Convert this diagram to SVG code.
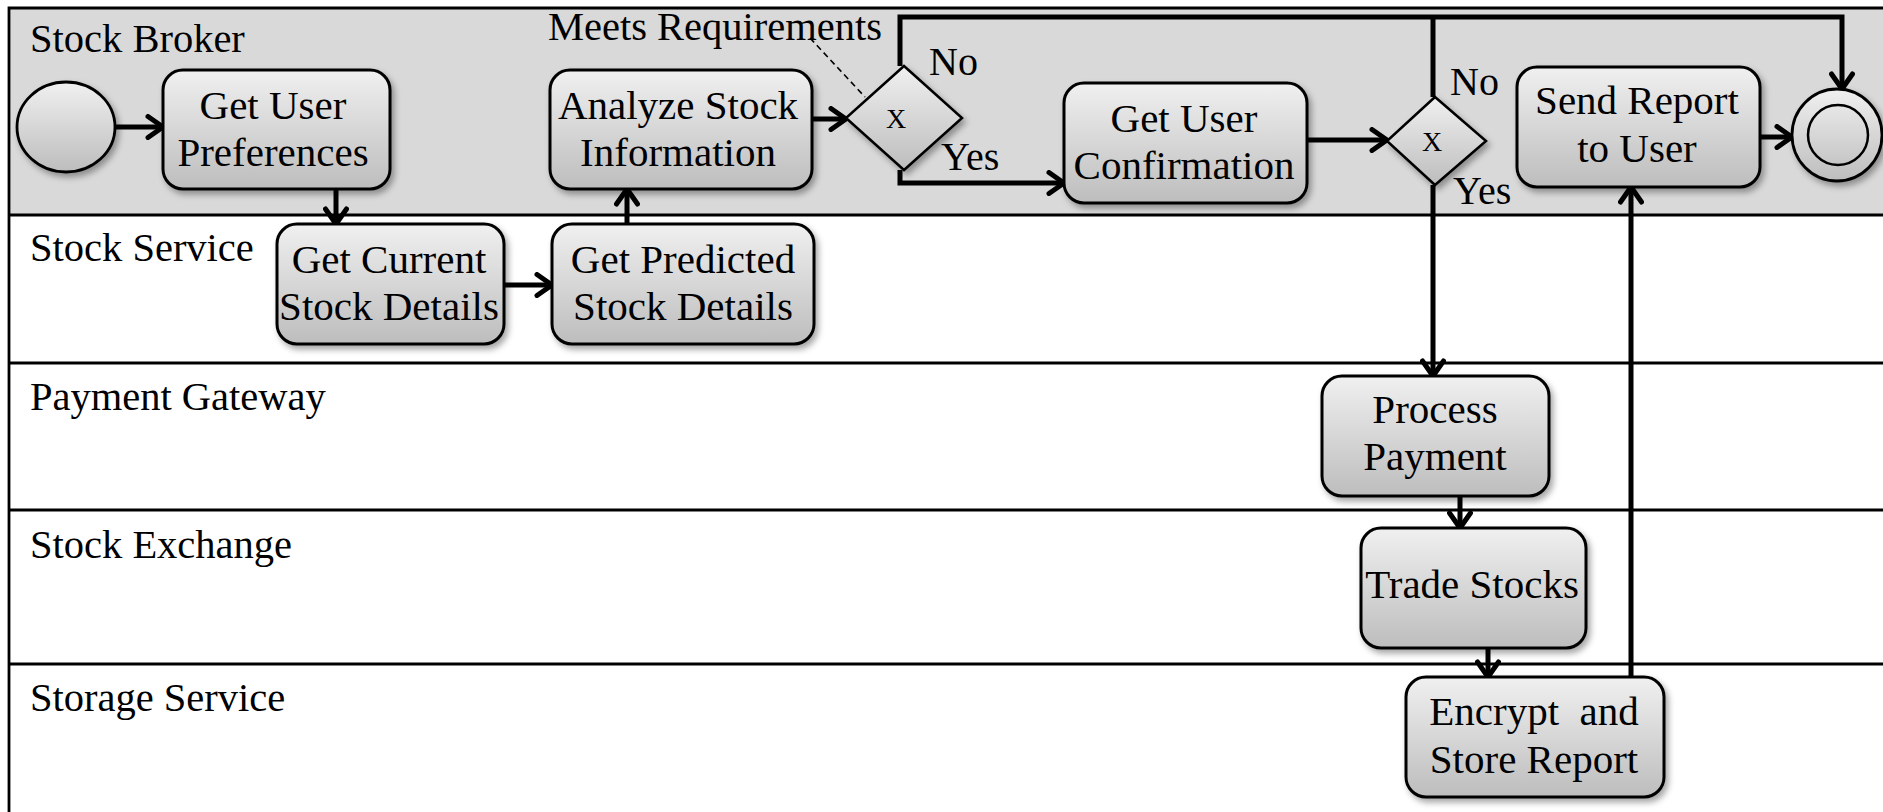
<svg xmlns="http://www.w3.org/2000/svg" width="1883" height="812" viewBox="0 0 1883 812">
  <style>
    .lane-label { font-family: "Liberation Serif", "Times New Roman", serif; font-size: 40.5px; fill: #000; }
    .task-text { font-family: "Liberation Serif", "Times New Roman", serif; font-size: 41px; fill: #000; text-anchor: middle; }
    .gw-text { font-family: "Liberation Serif", "Times New Roman", serif; font-size: 28px; fill: #000; text-anchor: middle; }
    .flow-label { font-family: "Liberation Serif", "Times New Roman", serif; font-size: 40px; fill: #000; }
    .note { font-family: "Liberation Serif", "Times New Roman", serif; font-size: 40.5px; fill: #000; }
    .task { fill: url(#shade); stroke: #000; stroke-width: 3; filter: url(#shadow); }
    .gateway { fill: url(#shade); stroke: #000; stroke-width: 2.5; filter: url(#shadow); }
    .event { fill: url(#shade); stroke: #000; stroke-width: 2.8; filter: url(#shadow); }
    .lane-line { stroke: #000; stroke-width: 2.8; fill: none; }
    .flow { stroke: #000; stroke-width: 5; fill: none; marker-end: url(#chevron); }
    .flow-plain { stroke: #000; stroke-width: 5; fill: none; }
    .assoc { stroke: #000; stroke-width: 1.6; stroke-dasharray: 6 4; fill: none; }
  </style>
  <defs>
    <linearGradient id="shade" x1="0" y1="0" x2="0" y2="1">
      <stop offset="0" stop-color="#f0f0f0"/>
      <stop offset="1" stop-color="#bdbdbd"/>
    </linearGradient>
    <filter id="shadow" x="-20%" y="-20%" width="140%" height="150%">
      <feDropShadow dx="3" dy="4" stdDeviation="3" flood-color="#000" flood-opacity="0.35"/>
    </filter>
    <marker id="chevron" markerUnits="userSpaceOnUse" markerWidth="26" markerHeight="26" viewBox="0 0 26 26" refX="22" refY="13" orient="auto">
      <path d="M7,2.5 L22,13 L7,23.5" fill="none" stroke="#000" stroke-width="5" stroke-linejoin="round" stroke-linecap="round"/>
    </marker>
  </defs>

  <!-- pool and lanes -->
  <g id="pool">
    <rect x="9" y="8" width="1874" height="207" fill="#d9d9d9"/>
    <path class="lane-line" d="M9,812 V8 H1883"/>
    <path class="lane-line" d="M9,215 H1883 M9,363 H1883 M9,510 H1883 M9,664 H1883"/>
    <text class="lane-label" x="30" y="52">Stock Broker</text>
    <text class="lane-label" x="30" y="261">Stock Service</text>
    <text class="lane-label" x="30" y="410">Payment Gateway</text>
    <text class="lane-label" x="30" y="558">Stock Exchange</text>
    <text class="lane-label" x="30" y="711">Storage Service</text>
  </g>

  <!-- sequence flows -->
  <g id="connectors">
    <path class="flow" d="M115,127 H163"/>
    <path class="flow" d="M336,189 V224"/>
    <path class="flow" d="M504,285 H552"/>
    <path class="flow" d="M627,224 V189"/>
    <path class="flow" d="M812,119 H846"/>
    <path class="flow" d="M900,66 V17 H1842 V89"/>
    <path class="flow" d="M900,170 V183 H1064"/>
    <path class="flow" d="M1307,140 H1387"/>
    <path class="flow-plain" d="M1433,97 V17"/>
    <path class="flow" d="M1433,185 V376"/>
    <path class="flow" d="M1460,496 V528"/>
    <path class="flow" d="M1488,648 V677"/>
    <path class="flow" d="M1631,677 V187"/>
    <path class="flow" d="M1760,137 H1792"/>
    <path class="assoc" d="M810,38 L865,97"/>
    <text class="note" x="548" y="40">Meets Requirements</text>
    <text class="flow-label" x="929" y="75">No</text>
    <text class="flow-label" x="941" y="170">Yes</text>
    <text class="flow-label" x="1450" y="95">No</text>
    <text class="flow-label" x="1453" y="204">Yes</text>
  </g>

  <g id="start">
    <ellipse class="event" cx="66" cy="127" rx="49" ry="45"/>
  </g>

  <g id="get-user-preferences">
    <rect class="task" x="163" y="70" width="227" height="119" rx="20"/>
    <text class="task-text" x="273" y="118.5">Get User</text>
    <text class="task-text" x="273" y="165.5">Preferences</text>
  </g>

  <g id="get-current-stock-details">
    <rect class="task" x="277" y="224" width="227" height="120" rx="20"/>
    <text class="task-text" x="389" y="273">Get Current</text>
    <text class="task-text" x="389" y="320">Stock Details</text>
  </g>

  <g id="get-predicted-stock-details">
    <rect class="task" x="552" y="224" width="262" height="120" rx="20"/>
    <text class="task-text" x="683" y="273">Get Predicted</text>
    <text class="task-text" x="683" y="320">Stock Details</text>
  </g>

  <g id="analyze-stock-information">
    <rect class="task" x="550" y="70" width="262" height="119" rx="20"/>
    <text class="task-text" x="678" y="118.5">Analyze Stock</text>
    <text class="task-text" x="678" y="165.5">Information</text>
  </g>

  <g id="gateway-requirements">
    <polygon class="gateway" points="904,66 962,118 904,170 846,118"/>
    <text class="gw-text" x="896" y="128">X</text>
  </g>

  <g id="get-user-confirmation">
    <rect class="task" x="1064" y="83" width="243" height="120" rx="20"/>
    <text class="task-text" x="1184" y="132">Get User</text>
    <text class="task-text" x="1184" y="179">Confirmation</text>
  </g>

  <g id="gateway-confirmation">
    <polygon class="gateway" points="1435,97 1486,141 1435,185 1387,141"/>
    <text class="gw-text" x="1432" y="151">X</text>
  </g>

  <g id="process-payment">
    <rect class="task" x="1322" y="376" width="227" height="120" rx="20"/>
    <text class="task-text" x="1435" y="423">Process</text>
    <text class="task-text" x="1435" y="470">Payment</text>
  </g>

  <g id="trade-stocks">
    <rect class="task" x="1361" y="528" width="225" height="120" rx="20"/>
    <text class="task-text" x="1472" y="598">Trade Stocks</text>
  </g>

  <g id="encrypt-and-store-report">
    <rect class="task" x="1406" y="677" width="258" height="120" rx="20"/>
    <text class="task-text" x="1534" y="725" style="white-space: pre">Encrypt  and</text>
    <text class="task-text" x="1534" y="773">Store Report</text>
  </g>

  <g id="send-report-to-user">
    <rect class="task" x="1517" y="67" width="243" height="120" rx="20"/>
    <text class="task-text" x="1637" y="114">Send Report</text>
    <text class="task-text" x="1637" y="162">to User</text>
  </g>

  <g id="end">
    <ellipse class="event" cx="1837" cy="135" rx="45" ry="46"/>
    <circle cx="1838" cy="135" r="30" fill="none" stroke="#000" stroke-width="2.5"/>
  </g>
</svg>
